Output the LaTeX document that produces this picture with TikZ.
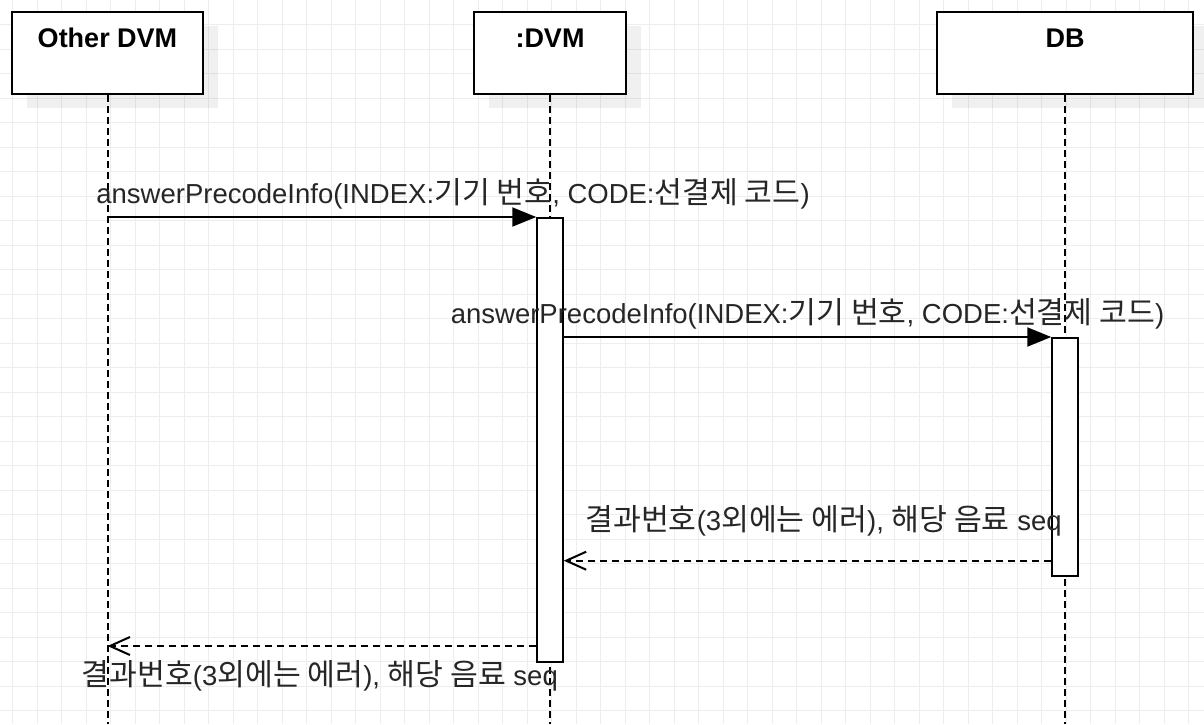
\documentclass[tikz,border=0pt]{standalone}
\usepackage{fontspec}
\setmainfont{Liberation Sans}
\newfontfamily\kr[Scale=1.1]{Noto Sans CJK KR}
\usetikzlibrary{arrows.meta,shadows}
\tikzset{
	gridline/.style={line width=0.8pt, color=black!7},
	headbox/.style={draw, line width=2pt, fill=white, anchor=north, minimum height=82pt, inner ysep=0pt, text height=35pt, text depth=47pt, font=\bfseries\fontsize{27}{32}\selectfont, drop shadow={shadow xshift=15pt, shadow yshift=-14pt, opacity=0.06, fill=black}},
	lifeline/.style={line width=2pt, dash pattern=on 7pt off 4pt},
	bar/.style={draw, line width=2pt, fill=white, anchor=north, minimum width=25.5pt, inner sep=0pt},
	msg/.style={line width=2pt, -{Triangle[length=24pt,width=19pt]}},
	ret/.style={line width=2pt, dash pattern=on 7pt off 5pt, -{Straight Barb[length=20pt,width=18pt]}},
	msglabel/.style={anchor=base, inner sep=0pt, text=black!85, font=\fontsize{27.5}{33}\selectfont}
}

\begin{document}
\begin{tikzpicture}[x=1pt,y=-1pt]
			%%%%% GRID %%%%%
			\useasboundingbox (0,0) rectangle (1204,724);
			\fill[white] (0,0) rectangle (1204,724);
			\foreach \k in {0,...,48} \draw[gridline] (12.8+24.5*\k,0) -- (12.8+24.5*\k,724);
			\foreach \k in {1,...,29} \draw[gridline] (0,24.5*\k) -- (1204,24.5*\k);
			\coordinate (bottom) at (0,724);
			
			%%%%% HEADS %%%%%
			\node[headbox, minimum width=191pt] (other) at (107.5,11) {Other DVM};
			\node[headbox, minimum width=152pt] (dvm) at (550,11) {:DVM};
			\node[headbox, minimum width=256pt] (db) at (1065,11) {DB};
			
			\draw[lifeline] (other.south) -- (other.south |- bottom);
			\draw[lifeline] (dvm.south) -- (dvm.south |- bottom);
			\draw[lifeline] (db.south) -- (db.south |- bottom);
			
			%%%%% BARS %%%%%
			\node[bar, minimum height=444pt] (dvmbar) at (550,217) {};
			\node[bar, minimum height=238pt] (dbbar) at (1065,337) {};
			
			%%%%% MESSAGES %%%%%
			\draw[msg] (dvmbar.north west -| other.south) -- (dvmbar.north west)
				node[msglabel, pos=0.806, yshift=14pt] (m1) {answerPrecodeInfo(INDEX:{\kr 기기 번호}, CODE:{\kr 선결제 코드})};
			\draw[msg] (dbbar.north west -| dvmbar.east) -- (dbbar.north west)
				node[msglabel, pos=0.5, yshift=14pt] (m2) {answerPrecodeInfo(INDEX:{\kr 기기 번호}, CODE:{\kr 선결제 코드})};
			
			\coordinate (r1) at ([yshift=16.3pt]dbbar.south west);
			\draw[ret] (r1) -- (r1 -| dvmbar.east)
				node[msglabel, pos=0.467, yshift=30pt] (m3) {{\kr 결과번호}(3{\kr 외에는 에러}), {\kr 해당 음료} seq};
			
			\coordinate (r2) at ([yshift=17pt]dvmbar.south west);
			\draw[ret] (r2) -- (r2 -| other.south)
				node[msglabel, pos=0.505, yshift=-39pt] (m4) {{\kr 결과번호}(3{\kr 외에는 에러}), {\kr 해당 음료} seq};
			
			%%%%% END %%%%%
\end{tikzpicture}
\end{document}
